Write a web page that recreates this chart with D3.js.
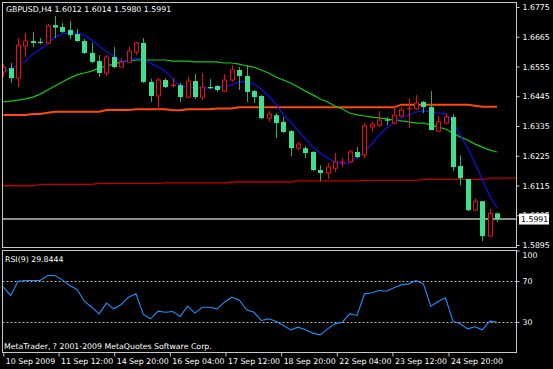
<!DOCTYPE html>
<html><head><meta charset="utf-8">
<script src="https://cdn.jsdelivr.net/npm/d3@7"></script>
<style>html,body{margin:0;padding:0;background:#000;overflow:hidden}</style>
</head><body><svg id="c" width="553" height="369"></svg>
<script>
// ---- data ----
const title = "GBPUSD,H4  1.6012 1.6014 1.5980 1.5991";
const rsiTitle = "RSI(9) 29.8444";
const copyright = "MetaTrader, ? 2001-2009 MetaQuotes Software Corp.";
const bid = 1.5991;

const opens  = [1.6535,1.6549,1.6512,1.6631,1.6649,1.6647,1.6642,1.6708,1.6701,1.6690,
                1.6675,1.6649,1.6605,1.6575,1.6531,1.6590,1.6553,1.6571,1.6608,1.6642,
                1.6498,1.6446,1.6505,1.6484,1.6486,1.6442,1.6501,1.6442,1.6479,1.6483,
                1.6464,1.6505,1.6542,1.6520,1.6464,1.6446,1.6364,1.6375,1.6350,1.6316,
                1.6253,1.6253,1.6239,1.6172,1.6161,1.6179,1.6200,1.6202,1.6239,1.6228,
                1.6331,1.6338,1.6359,1.6346,1.6372,1.6398,1.6398,1.6424,1.6405,1.6316,
                1.6346,1.6368,1.6187,1.6139,1.6024,1.6057,1.5928,1.6012];
const highs  = [1.6564,1.6568,1.6660,1.6679,1.6683,1.6660,1.6712,1.6742,1.6716,1.6723,
                1.6694,1.6657,1.6642,1.6597,1.6597,1.6627,1.6586,1.6627,1.6646,1.6660,
                1.6509,1.6512,1.6512,1.6512,1.6494,1.6516,1.6527,1.6531,1.6509,1.6486,
                1.6527,1.6560,1.6553,1.6560,1.6468,1.6449,1.6390,1.6383,1.6368,1.6320,
                1.6275,1.6261,1.6242,1.6190,1.6198,1.6235,1.6216,1.6246,1.6257,1.6346,
                1.6350,1.6390,1.6368,1.6409,1.6405,1.6438,1.6449,1.6427,1.6464,1.6372,
                1.6383,1.6379,1.6227,1.6139,1.6066,1.6057,1.6028,1.6014];
const lows   = [1.6516,1.6494,1.6479,1.6590,1.6627,1.6638,1.6638,1.6660,1.6679,1.6657,
                1.6646,1.6601,1.6568,1.6516,1.6520,1.6549,1.6549,1.6568,1.6597,1.6494,
                1.6424,1.6394,1.6475,1.6477,1.6424,1.6438,1.6435,1.6431,1.6472,1.6461,
                1.6461,1.6498,1.6468,1.6424,1.6420,1.6361,1.6350,1.6290,1.6309,1.6224,
                1.6246,1.6216,1.6168,1.6131,1.6139,1.6165,1.6183,1.6198,1.6216,1.6216,
                1.6313,1.6331,1.6338,1.6342,1.6368,1.6327,1.6394,1.6383,1.6320,1.6313,
                1.6342,1.6168,1.6116,1.6020,1.6020,1.5909,1.5924,1.5980];
const closes = [1.6553,1.6512,1.6634,1.6649,1.6642,1.6642,1.6705,1.6699,1.6683,1.6671,
                1.6649,1.6605,1.6572,1.6531,1.6590,1.6553,1.6571,1.6612,1.6642,1.6498,
                1.6446,1.6505,1.6479,1.6487,1.6442,1.6501,1.6442,1.6479,1.6475,1.6468,
                1.6505,1.6542,1.6520,1.6461,1.6442,1.6364,1.6379,1.6346,1.6313,1.6253,
                1.6268,1.6235,1.6172,1.6161,1.6183,1.6202,1.6203,1.6239,1.6220,1.6335,
                1.6342,1.6357,1.6355,1.6375,1.6394,1.6401,1.6420,1.6405,1.6320,1.6350,
                1.6368,1.6183,1.6142,1.6024,1.6057,1.5928,1.6012,1.5991];

const maBlue = [1.6535,1.6546,1.6561,1.6575,1.6601,1.6620,1.6638,1.6664,1.6675,1.6679,
                1.6679,1.6671,1.6653,1.6631,1.6609,1.6594,1.6575,1.6575,1.6586,1.6583,
                1.6568,1.6553,1.6538,1.6509,1.6483,1.6479,1.6476,1.6476,1.6476,1.6476,
                1.6479,1.6487,1.6498,1.6498,1.6490,1.6472,1.6446,1.6416,1.6376,1.6350,
                1.6317,1.6287,1.6257,1.6235,1.6217,1.6202,1.6195,1.6198,1.6217,1.6239,
                1.6268,1.6302,1.6328,1.6346,1.6365,1.6376,1.6387,1.6391,1.6387,1.6383,
                1.6379,1.6350,1.6302,1.6254,1.6198,1.6135,1.6076,1.6032];
const maGreen = [1.6424,1.6427,1.6431,1.6435,1.6442,1.6453,1.6468,1.6483,1.6498,1.6512,
                 1.6524,1.6531,1.6538,1.6550,1.6557,1.6564,1.6572,1.6575,1.6579,1.6579,
                 1.6579,1.6579,1.6579,1.6575,1.6575,1.6575,1.6572,1.6572,1.6572,1.6572,
                 1.6568,1.6568,1.6564,1.6557,1.6553,1.6542,1.6531,1.6516,1.6505,1.6494,
                 1.6479,1.6464,1.6450,1.6435,1.6424,1.6409,1.6398,1.6383,1.6376,1.6372,
                 1.6368,1.6365,1.6361,1.6357,1.6354,1.6350,1.6346,1.6346,1.6339,1.6331,
                 1.6324,1.6309,1.6294,1.6283,1.6268,1.6257,1.6246,1.6239];
const maOrange = [1.6376,1.6376,1.6376,1.6376,1.6379,1.6379,1.6384,1.6388,1.6388,1.6388,
                  1.6388,1.6388,1.6388,1.6388,1.6394,1.6394,1.6394,1.6394,1.6397,1.6397,
                  1.6397,1.6397,1.6397,1.6393,1.6393,1.6397,1.6397,1.6397,1.6397,1.6400,
                  1.6400,1.6400,1.6404,1.6404,1.6404,1.6404,1.6404,1.6404,1.6404,1.6404,
                  1.6404,1.6404,1.6404,1.6404,1.6404,1.6404,1.6404,1.6404,1.6404,1.6404,
                  1.6404,1.6404,1.6404,1.6404,1.6414,1.6414,1.6414,1.6414,1.6414,1.6414,
                  1.6414,1.6414,1.6414,1.6414,1.6410,1.6406,1.6406,1.6406];
// shifted long MA, runs a few bars past the last candle
const maRed = [1.6114,1.6114,1.6114,1.6114,1.6114,1.6119,1.6119,1.6119,1.6119,1.6119,
               1.6119,1.6119,1.6119,1.6123,1.6123,1.6123,1.6123,1.6123,1.6123,1.6123,
               1.6123,1.6123,1.6125,1.6125,1.6125,1.6125,1.6125,1.6125,1.6125,1.6125,
               1.6125,1.6128,1.6128,1.6128,1.6128,1.6128,1.6128,1.6128,1.6128,1.6128,
               1.6132,1.6132,1.6132,1.6132,1.6132,1.6132,1.6132,1.6132,1.6132,1.6134,
               1.6134,1.6134,1.6134,1.6134,1.6134,1.6134,1.6134,1.6138,1.6138,1.6138,
               1.6138,1.6138,1.6138,1.6138,1.6138,1.6138,1.6142,1.6142,1.6142,1.6142,1.6142];

const rsi = [64.1,55.9,69.9,70.6,70.6,70.6,75.5,75.5,71.2,65.7,
             61.8,50.3,44.4,37.9,48.4,42.8,47.1,54.2,57.5,37.3,
             33.0,40.5,39.5,40.2,35.3,45.4,38.6,44.4,44.4,42.8,
             49.3,54.2,51.6,41.8,39.5,31.4,33.0,30.7,26.5,22.2,
             24.8,22.2,19.0,17.3,23.2,28.1,29.7,37.9,36.3,57.5,
             58.5,60.8,60.1,63.4,66.3,67.3,70.6,67.3,45.4,50.0,
             53.6,30.7,28.1,23.2,25.2,22.2,30.7,29.8444];

const priceTicks = [1.5895,1.6005,1.6115,1.6225,1.6335,1.6445,1.6555,1.6665,1.6775];
const rsiTicks = [100,70,30];
const rsiLevels = [70,30];
const timeLabels = ["10 Sep 2009","11 Sep 12:00","14 Sep 20:00","16 Sep 04:00","17 Sep 12:00",
                    "18 Sep 20:00","22 Sep 04:00","23 Sep 12:00","24 Sep 20:00"];
// where the time labels sit, in bar units
const timeLabelBars = [0,7.5,15.05,22.6,30.15,37.7,45.25,52.8,60.4];

// ---- drawing ----
const FONT = "'DejaVu Sans', Tahoma, sans-serif";
const FS = 7.8;
const FRAME = "#c8c8c8";
const svg = d3.select("#c");
svg.append("rect").attr("width",553).attr("height",369).attr("fill","#000");

const L = 2.5, R = 516.5;
const x = d3.scaleLinear().domain([0,67]).range([3.3,497.1]);
const y = d3.scaleLinear().domain([1.5895,1.6775]).range([245,7]);
const yr = d3.scaleLinear().domain([0,100]).range([352.5,250.5]);

const defs = svg.append("defs");
defs.append("clipPath").attr("id","mainClip").append("rect")
  .attr("x",L+0.5).attr("y",2.5).attr("width",R-L-1).attr("height",244.5);
defs.append("clipPath").attr("id","rsiClip").append("rect")
  .attr("x",L+0.5).attr("y",251).attr("width",R-L-1).attr("height",101);

const main = svg.append("g").attr("clip-path","url(#mainClip)");

// moving averages
const line = d3.line().x((d,i)=>x(i)).y(d=>y(d));
main.append("path").datum(maRed).attr("d",line).attr("fill","none")
  .attr("stroke","#c00000").attr("stroke-width",1.3);
main.append("path").datum(maOrange).attr("d",line).attr("fill","none")
  .attr("stroke","#ff4a0a").attr("stroke-width",2);
main.append("path").datum(maGreen).attr("d",line).attr("fill","none")
  .attr("stroke","#14c814").attr("stroke-width",1.2);
main.append("path").datum(maBlue).attr("d",line).attr("fill","none")
  .attr("stroke","#1010ff").attr("stroke-width",1.1);

// bid line
main.append("line").attr("x1",L).attr("x2",R).attr("y1",y(bid)).attr("y2",y(bid))
  .attr("stroke","#8c8c8c").attr("stroke-width",2);

// candles
const bars = opens.map((o,i)=>({i,o,h:highs[i],l:lows[i],c:closes[i]}));
const cg = main.append("g");
bars.forEach(b=>{
  const cx = Math.round(x(b.i)) + 0.5;
  const bull = b.c > b.o;
  const col = bull ? "#e81010" : "#22b070";
  cg.append("line").attr("x1",cx).attr("x2",cx).attr("y1",y(b.h)).attr("y2",y(b.l))
    .attr("stroke",col).attr("stroke-width",1);
  const top = y(Math.max(b.o,b.c)), bot = y(Math.min(b.o,b.c));
  if (bot - top < 1.5) {
    cg.append("line").attr("x1",cx-2.5).attr("x2",cx+2.5).attr("y1",(top+bot)/2).attr("y2",(top+bot)/2)
      .attr("stroke", bull ? "#e81010" : "#3ee08f").attr("stroke-width",1.2);
  } else if (bull) {
    cg.append("rect").attr("x",cx-2).attr("y",top).attr("width",4).attr("height",bot-top)
      .attr("fill","#000").attr("stroke","#e81010").attr("stroke-width",1);
  } else {
    cg.append("rect").attr("x",cx-2.5).attr("y",top).attr("width",5).attr("height",bot-top)
      .attr("fill","#3ee08f");
  }
});

// RSI
const rg = svg.append("g").attr("clip-path","url(#rsiClip)");
rsiLevels.forEach(v=>{
  rg.append("line").attr("x1",L).attr("x2",R).attr("y1",Math.round(yr(v))+0.5).attr("y2",Math.round(yr(v))+0.5)
    .attr("stroke","#b0b0b0").attr("stroke-width",1).attr("stroke-dasharray","2,2");
});
rg.append("path").datum(rsi).attr("fill","none").attr("stroke","#1e90ff").attr("stroke-width",1.1)
  .attr("d", d3.line().x((d,i)=>x(i)).y(d=>yr(d)));

// frames
svg.append("rect").attr("x",L).attr("y",2.5).attr("width",R-L).attr("height",245)
  .attr("fill","none").attr("stroke",FRAME);
svg.append("rect").attr("x",L).attr("y",250.5).attr("width",R-L).attr("height",102)
  .attr("fill","none").attr("stroke",FRAME);

// axes
function styleAxis(g){
  g.select(".domain").remove();
  g.selectAll(".tick line").attr("stroke",FRAME);
  g.selectAll(".tick text").attr("fill","#ffffff").attr("font-family",FONT).attr("font-size",FS);
}
const pAxis = svg.append("g").attr("transform",`translate(${R},0)`)
  .call(d3.axisRight(y).tickValues(priceTicks).tickSize(3).tickPadding(3).tickFormat(d3.format(".4f")));
styleAxis(pAxis);

const rAxis = svg.append("g").attr("transform",`translate(${R},0)`)
  .call(d3.axisRight(yr).tickValues(rsiTicks).tickSize(3).tickPadding(3).tickFormat(d3.format("d")));
styleAxis(rAxis);
rAxis.selectAll(".tick text").filter(d=>d===100).attr("dy","0.85em");

const tAxis = svg.append("g").attr("transform",`translate(0,352.5)`)
  .call(d3.axisBottom(x).tickValues(timeLabelBars).tickSize(4).tickPadding(2)
        .tickFormat((d,i)=>timeLabels[i]));
styleAxis(tAxis);
tAxis.selectAll(".tick text").attr("text-anchor","start").attr("x",2);

// bid price box
svg.append("rect").attr("x",519).attr("y",y(bid)-5.5).attr("width",30).attr("height",11)
  .attr("fill","#ffffff");
svg.append("text").attr("x",521).attr("y",y(bid)).attr("dy","0.35em")
  .attr("font-family",FONT).attr("font-size",FS).attr("fill","#000").text(d3.format(".4f")(bid));

// texts
svg.append("text").attr("x",6).attr("y",12).attr("font-family",FONT).attr("font-size",FS)
  .attr("fill","#fff").text(title);
svg.append("text").attr("x",5).attr("y",261.5).attr("font-family",FONT).attr("font-size",FS)
  .attr("fill","#fff").text(rsiTitle);
svg.append("text").attr("x",4).attr("y",349).attr("font-family",FONT).attr("font-size",FS)
  .attr("fill","#fff").text(copyright);
</script></body></html>
